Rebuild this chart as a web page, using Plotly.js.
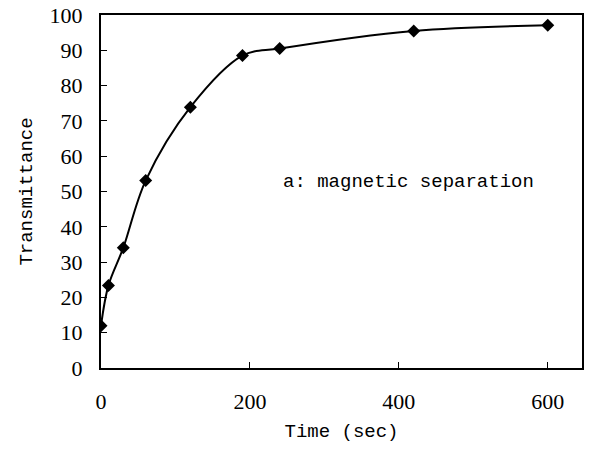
<!DOCTYPE html>
<html>
<head>
<meta charset="utf-8">
<script src="https://cdn.plot.ly/plotly-3.0.1.min.js"></script>
<style>
  html, body { margin: 0; padding: 0; background: #fff; }
  #chart { width: 589px; height: 453px; }
</style>
</head>
<body>
<div id="chart"></div>
<script>
// Transmittance over time for magnetic separation
const timeSec = [0, 10, 30, 60, 120, 190, 240, 420, 600];
const transmittance = [12.0, 23.4, 34.1, 53.1, 73.9, 88.5, 90.5, 95.5, 97.1];
const xTicks = [0, 200, 400, 600];
const yTicks = [0, 10, 20, 30, 40, 50, 60, 70, 80, 90, 100];
const noteText = 'a: magnetic separation';

const tickFont = { family: '"Liberation Serif", "DejaVu Serif", serif', size: 22, color: '#000' };
const monoFont = { family: '"Liberation Mono", "DejaVu Sans Mono", monospace', size: 19, color: '#000' };

const trace = {
  x: timeSec,
  y: transmittance,
  mode: 'lines+markers',
  type: 'scatter',
  line: { color: '#000', width: 2, shape: 'spline', smoothing: 1 },
  marker: { symbol: 'diamond', size: 10, color: '#000' },
  hoverinfo: 'skip'
};

const layout = {
  width: 589,
  height: 453,
  margin: { l: 101, r: 7, t: 15, b: 85 },
  paper_bgcolor: '#fff',
  plot_bgcolor: '#fff',
  showlegend: false,
  xaxis: {
    range: [0, 646],
    tickvals: xTicks,
    ticktext: xTicks.map(String),
    ticks: 'inside',
    ticklen: 6,
    tickwidth: 1,
    tickcolor: '#000',
    showgrid: false,
    zeroline: false,
    showline: true,
    linecolor: '#000',
    linewidth: 2,
    mirror: true,
    tickfont: tickFont,
    ticklabelstandoff: 13,
    title: { text: 'Time (sec)', font: monoFont, standoff: 10 }
  },
  yaxis: {
    range: [0, 100],
    tickvals: yTicks,
    ticktext: yTicks.map(String),
    ticks: 'inside',
    ticklen: 6,
    tickwidth: 1,
    tickcolor: '#000',
    showgrid: false,
    zeroline: false,
    showline: true,
    linecolor: '#000',
    linewidth: 2,
    mirror: true,
    tickfont: tickFont,
    ticklabelstandoff: 12,
    title: { text: 'Transmittance', font: monoFont, standoff: 12 }
  },
  annotations: [{
    x: 242, y: 52.7, xref: 'x', yref: 'y',
    xanchor: 'left', yanchor: 'middle',
    text: noteText, showarrow: false, font: monoFont
  }]
};

Plotly.newPlot('chart', [trace], layout, { displayModeBar: false, staticPlot: true });
</script>
</body>
</html>
